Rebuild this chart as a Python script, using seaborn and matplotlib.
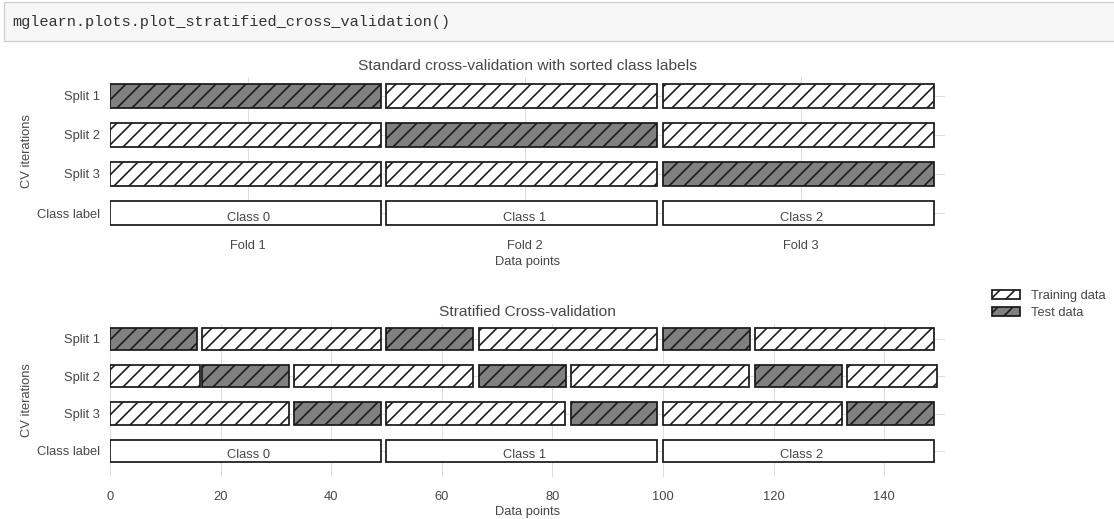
import numpy as np
import matplotlib
matplotlib.use("Agg")
import matplotlib.pyplot as plt
from matplotlib.patches import Rectangle
import seaborn as sns

# ---- data -------------------------------------------------------------
n_samples = 150
split_labels = ["Split 1", "Split 2", "Split 3", "Class label"]
fold_labels = ["Fold 1", "Fold 2", "Fold 3"]
fold_centers = [25, 75, 125]
class_names = ["Class 0", "Class 1", "Class 2"]

# class blocks (sorted labels): start and length of each block
class_left = [0, 50, 100]
class_width = [49, 49, 49]

# standard CV: which fold is the test fold in each split
std_test_fold = [0, 1, 2]

# stratified CV: test and training segments for each split
strat_test_left = [[0, 50, 100], [16.7, 66.7, 116.7], [33.3, 83.3, 133.3]]
strat_test_width = [[15.7, 15.7, 15.7], [15.7, 15.7, 15.7], [15.7, 15.7, 15.7]]
strat_train_left = [[16.7, 66.7, 116.7], [0, 33.3, 83.3, 133.3], [0, 50, 100]]
strat_train_width = [[32.3, 32.3, 32.3], [16.2, 32.3, 32.3, 16.2],
                     [32.3, 32.3, 32.3]]

code_line = "mglearn.plots.plot_stratified_cross_validation()"

# ---- style ------------------------------------------------------------
sns.set_theme(style="whitegrid")
text_col = "#474747"
plt.rcParams.update({
    "font.family": ["Liberation Sans", "DejaVu Sans"],
    "font.size": 10.3,
    "axes.titlesize": 12.4,
    "axes.labelsize": 10.3,
    "xtick.labelsize": 10.3,
    "ytick.labelsize": 10.3,
    "legend.fontsize": 10.3,
    "text.color": text_col,
    "axes.labelcolor": text_col,
    "xtick.color": text_col,
    "ytick.color": text_col,
    "grid.color": "#dedede",
    "grid.linewidth": 0.8,
    "hatch.linewidth": 1.3,
    "xtick.major.pad": 5,
    "ytick.major.pad": 2,
})

DPI = 90
W, H = 1114, 519
fig = plt.figure(figsize=(W / DPI, H / DPI), dpi=DPI)
fig.patch.set_facecolor("white")

# notebook code cell strip
fig.patches.append(Rectangle((4 / W, 1 - 41 / H), 1.2, 39 / H,
                             transform=fig.transFigure, facecolor="#f7f7f7",
                             edgecolor="#cfcfcf", linewidth=1.0))
fig.text(12 / W, 1 - 22 / H, code_line, family="Liberation Mono",
         fontsize=12.2, color="#333333", va="center", ha="left")

bar_kw = dict(height=0.6, align="edge", edgecolor="#1a1a1a", linewidth=1.4)

def px_axes(left, top, right, bottom):
    return fig.add_axes([left / W, 1 - bottom / H, (right - left) / W,
                         (bottom - top) / H])

# ---- standard cross-validation ----------------------------------------
ax = px_axes(110, 77, 945, 226)
ax.set_frame_on(False)
n_folds = len(fold_labels)
for split, test in enumerate(std_test_fold):
    colors = ["grey" if f == test else "w" for f in range(n_folds)]
    ax.barh(y=[split] * n_folds, width=class_width, left=class_left,
            color=colors, hatch="//", **bar_kw)
ax.barh(y=[n_folds] * n_folds, width=class_width, left=class_left,
        color="w", **bar_kw)
for c, name in zip(fold_centers, class_names):
    ax.text(c, 3.5, name, ha="center")
ax.set_xlim(0, n_samples + 1)
ax.set_ylim(3.63, -0.18)
ax.set_xticks(fold_centers)
ax.set_xticklabels(fold_labels)
ax.set_yticks(np.arange(len(split_labels)) + 0.3)
ax.set_yticklabels(split_labels)
ax.set_title("Standard cross-validation with sorted class labels")
ax.set_xlabel("Data points", labelpad=3)
ax.set_ylabel("CV iterations", labelpad=3)

# ---- stratified cross-validation --------------------------------------
ax2 = px_axes(110, 324, 945, 477)
ax2.set_frame_on(False)
test_bars = None
train_bars = None
for split in range(n_folds):
    tb = ax2.barh(y=[split] * len(strat_test_left[split]),
                  width=strat_test_width[split], left=strat_test_left[split],
                  color="grey", hatch="//", **bar_kw)
    rb = ax2.barh(y=[split] * len(strat_train_left[split]),
                  width=strat_train_width[split], left=strat_train_left[split],
                  color="w", hatch="//", **bar_kw)
    test_bars = test_bars or tb
    train_bars = train_bars or rb
ax2.barh(y=[n_folds] * n_folds, width=class_width, left=class_left,
         color="w", **bar_kw)
for c, name in zip(fold_centers, class_names):
    ax2.text(c, 3.5, name, ha="center")
ax2.set_xlim(0, n_samples + 1)
ax2.set_ylim(4, -0.1)
ax2.set_xticks(np.arange(0, n_samples, 20))
ax2.set_yticks(np.arange(len(split_labels)) + 0.3)
ax2.set_yticklabels(split_labels)
ax2.set_title("Stratified Cross-validation")
ax2.set_xlabel("Data points", labelpad=3)
ax2.set_ylabel("CV iterations", labelpad=3)
ax2.legend([train_bars[0], test_bars[0]], ["Training data", "Test data"],
           loc=(1.05, 1), frameon=False, handlelength=2.2,
           labelspacing=0.4)

fig.savefig("out.png", dpi=DPI)
